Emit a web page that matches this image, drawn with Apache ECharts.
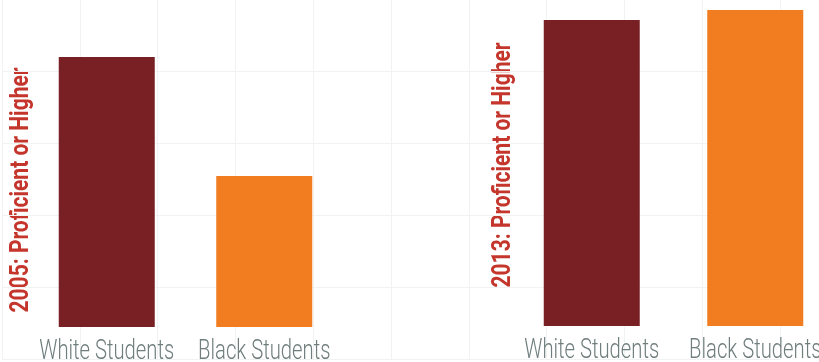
<!DOCTYPE html>
<html>
<head>
<meta charset="utf-8">
<script src="https://cdn.jsdelivr.net/npm/echarts@6/dist/echarts.min.js"></script>
<style>
html,body{margin:0;padding:0;background:#fff;}
#chart{width:819px;height:362px;}
</style>
</head>
<body>
<div id="chart"></div>
<script>
// Data
const categories = ['White Students', 'Black Students'];
const values2005 = [82.6, 46.2];   // % of axis height
const values2013 = [93.9, 96.9];
const titles = ['2005: Proficient or Higher', '2013: Proficient or Higher'];

const barColors = ['#782024', '#f27d21'];
const titleColor = '#c4352c';
const labelColor = '#6f7d7d';

// condensed look via measured horizontal scaling
const cv = document.createElement('canvas').getContext('2d');
const labelFont = "300 27px Roboto, 'DejaVu Sans', sans-serif";
cv.font = labelFont;
const labelScale = 135 / cv.measureText(categories[0]).width;
const titleFont = "bold 25px Roboto, 'DejaVu Sans', sans-serif";
cv.font = titleFont;
const titleScale = 245 / cv.measureText(titles[0]).width;

const chart = echarts.init(document.getElementById('chart'));

function catAxis(gi) {
  return {
    type: 'category', gridIndex: gi, data: categories,
    axisLine: {show: false}, axisTick: {show: false}, splitLine: {show: false},
    axisLabel: {show: false}
  };
}
function valAxis(gi) {
  return {
    type: 'value', gridIndex: gi, min: 0, max: 100,
    axisLine: {show: false}, axisTick: {show: false}, axisLabel: {show: false}, splitLine: {show: false}
  };
}
function barSeries(ai, vals) {
  return {
    type: 'bar', xAxisIndex: ai, yAxisIndex: ai, barWidth: 96,
    data: vals.map((v, i) => ({value: v, itemStyle: {color: barColors[i]}}))
  };
}
function labelSeries(ai) {
  return {
    type: 'custom', xAxisIndex: ai, yAxisIndex: ai, clip: false, silent: true, z: 5,
    data: categories.map((c, i) => [i, 0]),
    renderItem: function (params, api) {
      const p = api.coord([api.value(0), 0]);
      return {
        type: 'text', x: p[0], y: p[1] + 25, scaleX: labelScale,
        style: {text: categories[params.dataIndex], fill: labelColor, font: labelFont,
                align: 'center', verticalAlign: 'middle'}
      };
    }
  };
}

chart.setOption({
  animation: false,
  grid: [
    {left: 2, top: -1, width: 778, height: 360, outerBoundsMode: 'none'},   // background lattice
    {left: 28, top: 0, width: 315, height: 327, outerBoundsMode: 'none'},
    {left: 510, top: 0, width: 327, height: 326, outerBoundsMode: 'none'}
  ],
  xAxis: [
    {type: 'value', gridIndex: 0, min: 0, max: 10, interval: 1,
     axisLine: {show: false}, axisTick: {show: false}, axisLabel: {show: false},
     splitLine: {lineStyle: {color: '#f1f3f3', width: 1}}},
    catAxis(1), catAxis(2)
  ],
  yAxis: [
    {type: 'value', gridIndex: 0, min: 0, max: 5, interval: 1,
     axisLine: {show: false}, axisTick: {show: false}, axisLabel: {show: false},
     splitLine: {lineStyle: {color: '#f1f3f3', width: 1}}},
    valAxis(1), valAxis(2)
  ],
  series: [
    barSeries(1, values2005), barSeries(2, values2013),
    labelSeries(1), labelSeries(2)
  ],
  graphic: [
    {type: 'text', x: 22, y: 190, rotation: Math.PI / 2, scaleX: titleScale,
     style: {text: titles[0], fill: titleColor, font: titleFont, align: 'center', verticalAlign: 'middle'}},
    {type: 'text', x: 504, y: 165, rotation: Math.PI / 2, scaleX: titleScale,
     style: {text: titles[1], fill: titleColor, font: titleFont, align: 'center', verticalAlign: 'middle'}}
  ]
});
</script>
</body>
</html>
